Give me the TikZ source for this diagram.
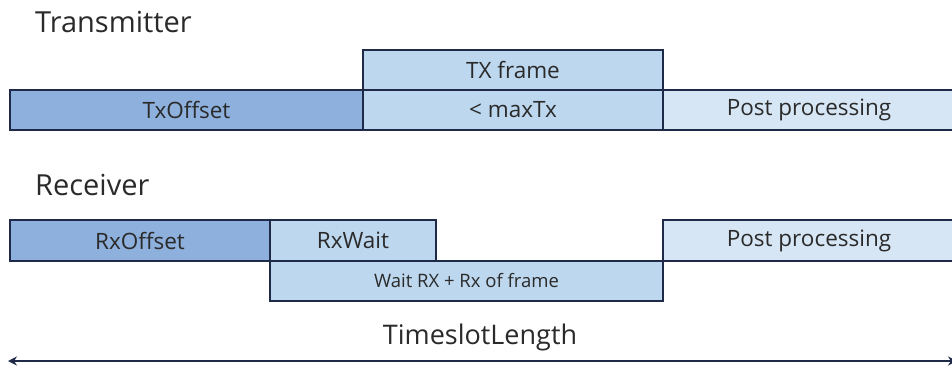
\documentclass[tikz,border=0pt]{standalone}
\usepackage{fontspec}
\setmainfont{Open Sans}
\usetikzlibrary{arrows.meta}
\definecolor{cdark}{HTML}{8DB0DC}
\definecolor{cmid}{HTML}{BDD7EE}
\definecolor{clight}{HTML}{D6E6F5}
\definecolor{cline}{HTML}{1E2A48}
\definecolor{ctext}{HTML}{2A2A2A}
\tikzset{
  seg/.style={draw=cline, line width=1.3pt, text=ctext, font=\fontsize{22.5}{26}\selectfont},
  title/.style={anchor=west, text=ctext, font=\fontsize{29}{32}\selectfont, inner sep=0pt},
}
\begin{document}
\begin{tikzpicture}[x=1pt,y=-1pt]
\useasboundingbox (0,0) rectangle (952,367);
% Transmitter
\node[title] (ttx) at (35,22) {Transmitter};
\filldraw[seg, fill=cmid] (363,50) rectangle (663,90) node[midway] (txf) {TX frame};
\filldraw[seg, fill=cdark] (10,90) rectangle (363,130) node[midway] (txo) {TxOffset};
\filldraw[seg, fill=cmid] (363,90) rectangle (663,130) node[midway] (mtx) {< maxTx};
\fill[clight] (663,90) rectangle (953,130);
\draw[seg] (953,90) -- (663,90) -- (663,130) -- (953,130);
\node[text=ctext, font=\fontsize{22.5}{26}\selectfont] (tpp) at (809,110) {Post processing};
% Receiver
\node[title] (trx) at (35,185) {Receiver};
\filldraw[seg, fill=cdark] (10,220) rectangle (270,261) node[midway] (rxo) {RxOffset};
\filldraw[seg, fill=cmid] (270,220) rectangle (436,261) node[midway] (rxw) {RxWait};
\filldraw[seg, fill=cmid, font=\fontsize{18.5}{21}\selectfont] (270,261) rectangle (663,301) node[midway] (wrx) {Wait RX + Rx of frame};
\fill[clight] (663,220) rectangle (953,261);
\draw[seg] (953,220) -- (663,220) -- (663,261) -- (953,261);
\node[text=ctext, font=\fontsize{22.5}{26}\selectfont] (rpp) at (809,240.5) {Post processing};
% Timeslot
\node[text=ctext, font=\fontsize{27}{30}\selectfont] (tsl) at (480,337) {TimeslotLength};
\coordinate (al) at (8,361);
\coordinate (ar) at (957,361);
\draw[cline, line width=2.8pt, {Stealth[length=9pt,width=9pt]}-{Stealth[length=9pt,width=9pt]}] (al) -- (ar);
\end{tikzpicture}
\end{document}
